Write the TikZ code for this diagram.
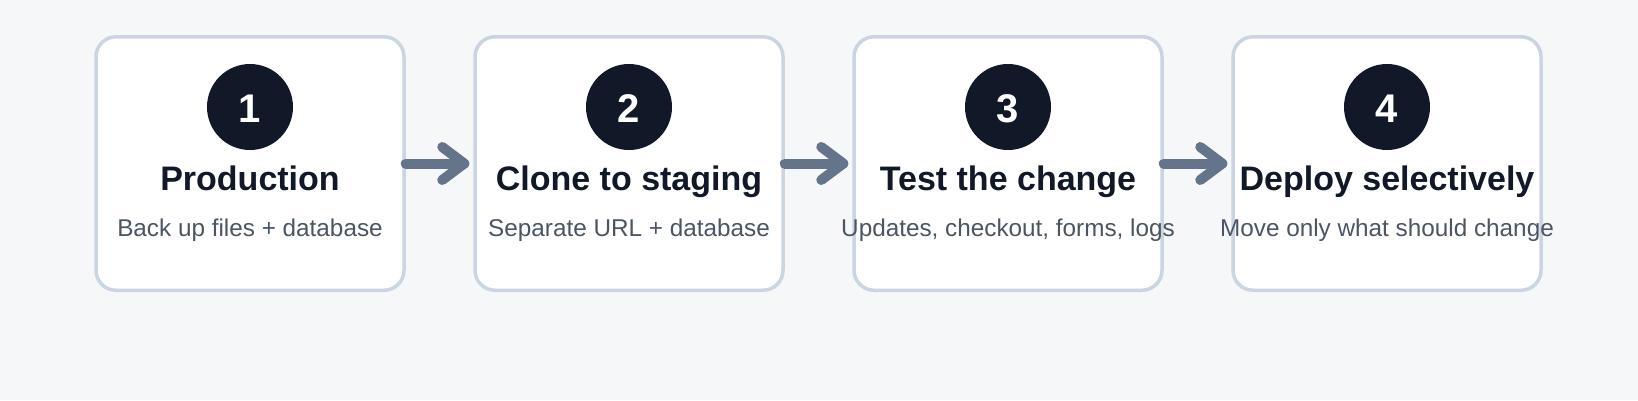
\documentclass[tikz,border=0pt]{standalone}
\usepackage{fontspec}
\setmainfont{Liberation Sans}
\definecolor{bg}{HTML}{F6F7F9}
\definecolor{boxline}{HTML}{CBD5E1}
\definecolor{ink}{HTML}{111827}
\definecolor{subink}{HTML}{4B5563}
\definecolor{arrowc}{HTML}{64748B}
\tikzset{
  stepbox/.style={draw=boxline, line width=3.5pt, fill=white, rounded corners=20pt,
    minimum width=308pt, minimum height=253.5pt, inner sep=0pt},
  numdot/.style={circle, fill=ink, minimum size=86pt, inner sep=0pt},
  numtext/.style={anchor=base, text=white, font=\fontsize{40}{44}\selectfont\bfseries, inner sep=0pt},
  titletext/.style={anchor=base, text=ink, font=\fontsize{34}{40}\selectfont\bfseries, inner sep=0pt},
  subtext/.style={anchor=base, text=subink, font=\fontsize{24.3}{28}\selectfont, inner sep=0pt},
  flowline/.style={draw=arrowc, line width=10pt, line cap=round, line join=round}
}
\begin{document}
\begin{tikzpicture}[x=1pt,y=-1pt]
\fill[bg] (0,0) rectangle (1638,400);
\useasboundingbox (0,0) rectangle (1638,400);

\node[stepbox] (b1) at (250,163.5) {};
\node[stepbox] (b2) at (629,163.5) {};
\node[stepbox] (b3) at (1008,163.5) {};
\node[stepbox] (b4) at (1387,163.5) {};

\node[numdot] (c1) at (250,107) {};
\node[numdot] (c2) at (629,107) {};
\node[numdot] (c3) at (1008,107) {};
\node[numdot] (c4) at (1387,107) {};

\node[numtext] (n1) at (250,122) {1};
\node[numtext] (n2) at (629,122) {2};
\node[numtext] (n3) at (1008,122) {3};
\node[numtext] (n4) at (1387,122) {4};

\node[titletext] (t1) at (250,190) {Production};
\node[titletext] (t2) at (629,190) {Clone to staging};
\node[titletext] (t3) at (1008,190) {Test the change};
\node[titletext] (t4) at (1387,190) {Deploy selectively};

\node[subtext] (s1) at (250,236.5) {Back up files + database};
\node[subtext] (s2) at (629,236.5) {Separate URL + database};
\node[subtext] (s3) at (1008,236.5) {Updates, checkout, forms, logs};
\node[subtext] (s4) at (1387,236.5) {Move only what should change};

\foreach \a/\b in {b1/b2, b2/b3, b3/b4}{
  \draw[flowline] (\a.east) -- ([xshift=-9pt]\b.west);
  \draw[flowline] ([xshift=-31pt,yshift=16.5pt]\b.west) -- ([xshift=-9pt]\b.west) -- ([xshift=-31pt,yshift=-16.5pt]\b.west);
}
\end{tikzpicture}
\end{document}
